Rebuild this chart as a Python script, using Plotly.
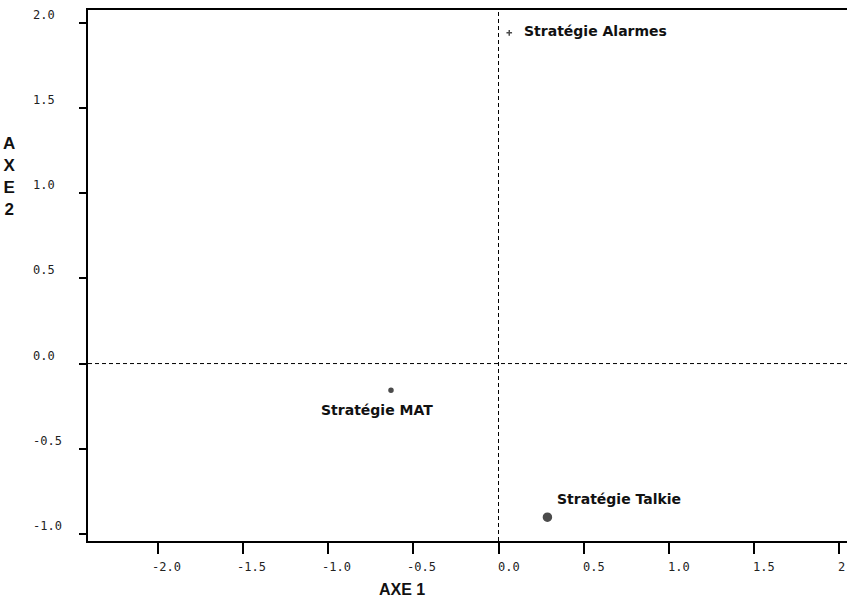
import plotly.graph_objects as go

# ---- data ----
labels = ["Stratégie Alarmes", "Stratégie MAT", "Stratégie Talkie"]
axe1 = [0.063, -0.631, 0.287]
axe2 = [1.94, -0.156, -0.901]

x_ticks = [-2.0, -1.5, -1.0, -0.5, 0.0, 0.5, 1.0, 1.5, 2.0]
x_tick_text = ["-2.0", "-1.5", "-1.0", "-0.5", "0.0", "0.5", "1.0", "1.5", "2"]
y_ticks = [2.0, 1.5, 1.0, 0.5, 0.0, -0.5, -1.0]
y_tick_text = ["2.0", "1.5", "1.0", "0.5", "0.0", "-0.5", "-1.0"]

x_title = "AXE 1"
y_title = "AXE 2"
ref_x = 0.0
ref_y = 0.0

# ---- styles ----
marker_sizes = [4, 4, 8]
marker_symbols = ["cross-thin", "circle", "circle"]
label_style = [
    dict(xanchor="left", yanchor="middle", xshift=13, yshift=2),
    dict(xanchor="center", yanchor="middle", xshift=-14, yshift=-20),
    dict(xanchor="left", yanchor="middle", xshift=8, yshift=18),
]

W, H = 847, 601
L, R, T, B = 88, 0, 10, 60
pw, ph = W - L - R, H - T - B


def px_x(p):
    return (p - L) / pw


def px_y(p):
    return (T + ph - p) / ph


fig = go.Figure()
fig.add_trace(go.Scatter(
    x=axe1, y=axe2, mode="markers",
    marker=dict(size=marker_sizes, symbol=marker_symbols, color="black",
                line=dict(color="black", width=1.5)),
    hoverinfo="text", text=labels, showlegend=False,
))

# reference dashed lines
fig.add_shape(type="line", xref="x", yref="paper", x0=ref_x, x1=ref_x, y0=0, y1=1,
              line=dict(color="black", width=1, dash="4px,3px"))
fig.add_shape(type="line", xref="paper", yref="y", x0=0, x1=1, y0=ref_y, y1=ref_y,
              line=dict(color="black", width=1, dash="4px,3px"))

label_font = dict(family="DejaVu Sans", size=14, color="#111111")
for lab, xv, yv, st in zip(labels, axe1, axe2, label_style):
    fig.add_annotation(x=xv, y=yv, xref="x", yref="y", text="<b>" + lab + "</b>",
                       showarrow=False, font=label_font, **st)

tick_font = dict(family="DejaVu Sans Mono", size=12, color="#222222")
for v, t in zip(x_ticks, x_tick_text):
    fig.add_annotation(x=v, y=px_y(566.5), xref="x", yref="paper",
                       text=t, showarrow=False, font=tick_font,
                       xanchor="left", yanchor="middle",
                       xshift=-8 if t.startswith("-") else -3)
for v, t in zip(y_ticks, y_tick_text):
    fig.add_annotation(x=px_x(31), y=v, xref="paper", yref="y",
                       text=t, showarrow=False, font=tick_font,
                       xanchor="left", yanchor="middle", yshift=8)

title_font = dict(family="Liberation Sans", size=16, color="#111111")
fig.add_annotation(x=px_x(402), y=px_y(589), xref="paper", yref="paper",
                   text="<b>" + x_title + "</b>", showarrow=False, font=title_font,
                   xanchor="center", yanchor="middle")
fig.add_annotation(x=px_x(9), y=px_y(177), xref="paper", yref="paper",
                   text="<b>" + "<br>".join(y_title.replace(" ", "")) + "</b>",
                   showarrow=False, font=dict(family="Liberation Sans", size=17, color="#111111"),
                   xanchor="center", yanchor="middle", align="center")

fig.update_layout(
    width=W, height=H,
    margin=dict(l=L, r=R, t=T, b=B),
    paper_bgcolor="white", plot_bgcolor="white",
    xaxis=dict(range=[-2.409, 2.045], tickvals=x_ticks, showticklabels=False,
               ticks="outside", ticklen=11, tickwidth=2, tickcolor="black",
               showline=True, linecolor="black", linewidth=2, mirror=True,
               showgrid=False, zeroline=False),
    yaxis=dict(range=[-1.041, 2.074], tickvals=y_ticks, showticklabels=False,
               ticks="outside", ticklen=7, tickwidth=2, tickcolor="black",
               showline=True, linecolor="black", linewidth=2, mirror=False,
               showgrid=False, zeroline=False),
)

fig.write_html("out.html", config={"displayModeBar": False},
               post_script="document.body.style.margin='0px';document.body.style.overflow='hidden';")
